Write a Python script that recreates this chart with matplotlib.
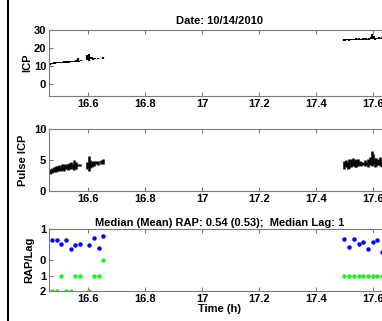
import matplotlib
matplotlib.use('Agg')
import matplotlib.pyplot as plt
from matplotlib.lines import Line2D

# ---- data ----
date_title = "Date: 10/14/2010"
rap_title = "Median (Mean) RAP: 0.54 (0.53);  Median Lag: 1"

# ICP (segments: time, low, high)
icp_t = [16.467, 16.473, 16.479, 16.485, 16.491, 16.497, 16.503, 16.509, 16.515,
         16.521, 16.527, 16.533, 16.539, 16.545, 16.551, 16.557, 16.563, 16.568,
         16.576, 16.598, 16.602, 16.606, 16.614, 16.618, 16.623, 16.636, 16.652,
         17.497, 17.503, 17.509, 17.515, 17.521, 17.527, 17.533, 17.539, 17.545,
         17.551, 17.557, 17.563, 17.569, 17.575, 17.581, 17.587, 17.593, 17.597,
         17.602, 17.608, 17.614, 17.620, 17.626, 17.632, 17.638]
icp_lo = [10.8, 11.0, 11.2, 11.3, 11.4, 11.5, 11.6, 11.6, 11.7,
          11.8, 11.9, 11.9, 12.0, 12.1, 12.2, 12.2, 12.3, 12.0,
          12.8, 13.2, 13.0, 13.6, 13.8, 13.5, 13.9, 14.0, 14.1,
          24.0, 24.1, 24.2, 24.1, 24.3, 24.2, 24.4, 24.5, 24.3,
          24.5, 24.4, 24.6, 24.5, 24.7, 24.4, 24.6, 24.8, 25.0,
          24.9, 24.7, 24.8, 25.0, 24.9, 25.1, 25.0]
icp_hi = [11.6, 11.8, 12.0, 12.1, 12.2, 12.3, 12.3, 12.4, 12.6,
          12.6, 12.7, 12.8, 12.8, 12.9, 13.0, 13.2, 14.2, 12.8,
          13.4, 16.0, 16.5, 15.2, 15.0, 14.6, 14.6, 14.7, 14.8,
          24.8, 25.0, 25.0, 25.1, 25.1, 25.0, 25.2, 25.3, 25.1,
          25.3, 25.2, 25.4, 25.3, 25.5, 25.2, 25.4, 26.2, 27.6,
          26.8, 25.6, 25.7, 25.9, 25.8, 26.0, 25.9]

# Pulse ICP (segments: time, low, high)
pulse_t = [16.468, 16.474, 16.480, 16.486, 16.492, 16.498, 16.504, 16.510, 16.516,
           16.522, 16.528, 16.534, 16.540, 16.546, 16.552, 16.558, 16.566, 16.572,
           16.597, 16.602, 16.607, 16.614, 16.620, 16.628, 16.636, 16.644, 16.652,
           17.499, 17.505, 17.511, 17.517, 17.523, 17.529, 17.535, 17.541, 17.547,
           17.553, 17.559, 17.565, 17.571, 17.577, 17.583, 17.589, 17.595, 17.600,
           17.606, 17.612, 17.618, 17.624, 17.630, 17.636]
pulse_lo = [2.8, 2.9, 3.0, 3.1, 3.2, 3.3, 3.2, 3.4, 3.3,
            3.5, 3.4, 3.5, 3.6, 3.5, 3.4, 3.5, 4.1, 4.0,
            3.6, 3.3, 3.7, 3.8, 4.0, 4.3, 4.2, 4.4, 4.3,
            3.6, 3.8, 3.5, 3.7, 3.9, 4.0, 3.8, 3.9, 4.1,
            4.2, 4.1, 4.2, 4.0, 4.2, 3.9, 4.2, 4.1, 4.3,
            3.8, 4.0, 4.2, 4.1, 3.9, 4.0]
pulse_hi = [3.6, 3.7, 3.9, 4.0, 4.1, 4.2, 4.0, 4.3, 4.4,
            4.3, 4.4, 4.5, 4.6, 4.3, 5.0, 4.6, 4.4, 4.3,
            4.6, 5.6, 5.0, 4.9, 4.8, 4.9, 4.9, 5.0, 5.2,
            4.8, 5.0, 4.7, 5.1, 5.2, 5.3, 5.0, 5.1, 5.2,
            4.8, 4.6, 4.7, 5.0, 4.6, 5.2, 5.5, 6.4, 6.0,
            5.3, 5.4, 5.2, 5.5, 5.3, 5.1]

# RAP and lag, one point per minute
rap_t = [16.475, 16.490, 16.506, 16.523, 16.539, 16.555, 16.572, 16.604, 16.621,
         16.637, 16.653,
         17.499, 17.517, 17.533, 17.550, 17.566, 17.582, 17.599, 17.615, 17.630]
rap = [0.65, 0.65, 0.52, 0.66, 0.34, 0.50, 0.53, 0.48, 0.72, 0.38, 0.76,
       0.69, 0.41, 0.67, 0.53, 0.57, 0.34, 0.59, 0.66, 0.26]
lag = [2, 2, 1, 2, 2, 1, 1, 2, 1, 1, 0,
       1, 1, 1, 1, 1, 1, 1, 1, 1]

# ---- layout ----
W, H = 382, 321
fig = plt.figure(figsize=(W / 100, H / 100), dpi=100)
plt.rcParams['font.family'] = ['Liberation Sans', 'DejaVu Sans']
plt.rcParams['font.weight'] = 'bold'

x_left_px, x_right_px = 49, 391
t0 = 16.463
px_per_h = 285.0
xlim = (t0, t0 + (x_right_px - x_left_px) / px_per_h)
xticks = [16.6, 16.8, 17.0, 17.2, 17.4, 17.6]
xticklabels = ["16.6", "16.8", "17", "17.2", "17.4", "17.6"]


def make_axes(top_px, bottom_px):
    ax = fig.add_axes([x_left_px / W, 1 - bottom_px / H,
                       (x_right_px - x_left_px) / W, (bottom_px - top_px) / H])
    ax.set_xlim(*xlim)
    ax.set_xticks(xticks)
    ax.set_xticklabels(xticklabels)
    for s in ax.spines.values():
        s.set_color('#7a7a7a')
        s.set_linewidth(0.8)
    ax.tick_params(direction='in', length=3, width=0.8, color='#7a7a7a',
                   labelsize=8, top=True, right=True, pad=2)
    for lab in ax.get_xticklabels() + ax.get_yticklabels():
        lab.set_fontweight('bold')
    return ax


ax1 = make_axes(30, 96)
ax1.vlines(icp_t, icp_lo, icp_hi, color='black', lw=1.6)
ax1.set_ylim(-6.7, 30)
ax1.set_yticks([0, 10, 20, 30])
ax1.set_ylabel("ICP", fontsize=8, fontweight='bold', labelpad=1)
ax1.set_title(date_title, fontsize=8, fontweight='bold', pad=4)

ax2 = make_axes(129, 191)
ax2.vlines(pulse_t, pulse_lo, pulse_hi, color='black', lw=1.8)
ax2.set_ylim(0, 10)
ax2.set_yticks([0, 5, 10])
ax2.set_ylabel("Pulse ICP", fontsize=8, fontweight='bold', labelpad=4)

ax3 = make_axes(229, 291)
ax3.plot(rap_t, rap, 'o', color='#0000ff', markersize=3.2, markeredgewidth=0)
ax3.plot(rap_t, [-v / 2 for v in lag], 'o', color='#22ee22', markersize=3.2,
         markeredgewidth=0)
ax3.set_ylim(-1, 1)
ax3.set_yticks([1, 0, -0.5, -1])
ax3.set_yticklabels(["1", "0", "1", "2"])
for lab in ax3.get_yticklabels():
    lab.set_fontweight('bold')
ax3.set_ylabel("RAP/Lag", fontsize=8, fontweight='bold', labelpad=4)
ax3.set_title(rap_title, fontsize=8, fontweight='bold', pad=2)
ax3.set_xlabel("Time (h)", fontsize=8, fontweight='bold', labelpad=0)

# left frame border of the page
fig.add_artist(Line2D([8 / W, 8 / W], [0, 1], color='black', lw=1.5))

fig.savefig("out.png", dpi=100)
